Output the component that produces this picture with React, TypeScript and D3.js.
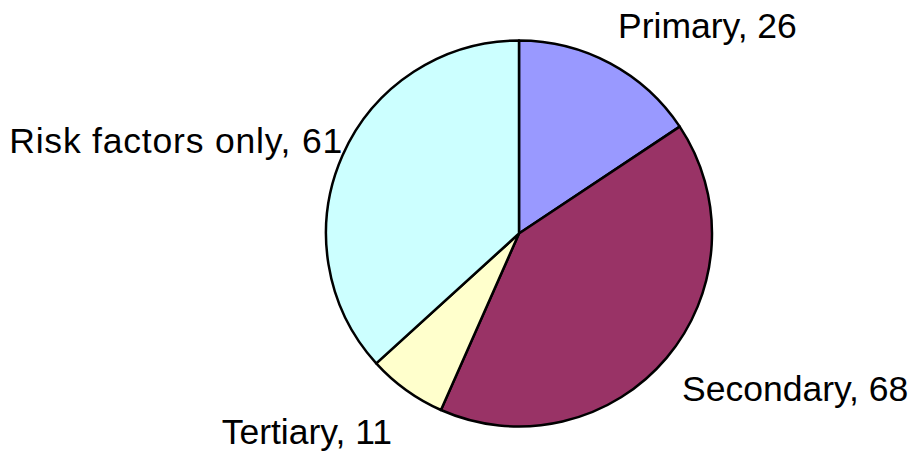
import { useEffect, useRef } from 'react';
import * as d3 from 'd3';

const categories = ['Primary', 'Secondary', 'Tertiary', 'Risk factors only'];
const counts = [26, 68, 11, 61];
const sliceColors = ['#9999FF', '#993366', '#FFFFCC', '#CCFFFF'];

// label placement relative to pie centre: [dx, dy, anchor, letterSpacing]
const labelOffsets: [number, number, string, number][] = [
  [99, -196, 'start', 0],
  [163, 167, 'start', 0],
  [-127, 210, 'end', 0],
  [-176, -81, 'end', 0.8],
];

export default function App() {
  const ref = useRef<SVGSVGElement | null>(null);

  useEffect(() => {
    if (!ref.current) return;
    const svg = d3.select(ref.current);
    svg.selectAll('*').remove();

    const width = 915;
    const height = 452;
    const cx = 519;
    const cy = 233.5;
    const radius = 193;

    svg.attr('width', width).attr('height', height);

    const data = categories.map((name, i) => ({ name, value: counts[i], color: sliceColors[i] }));

    const pie = d3.pie<{ name: string; value: number; color: string }>()
      .value(d => d.value)
      .sort(null);

    const arc = d3.arc<d3.PieArcDatum<{ name: string; value: number; color: string }>>()
      .innerRadius(0)
      .outerRadius(radius);

    const g = svg.append('g').attr('transform', `translate(${cx},${cy})`);

    g.selectAll('path')
      .data(pie(data))
      .enter()
      .append('path')
      .attr('d', arc)
      .attr('fill', d => d.data.color)
      .attr('stroke', '#000')
      .attr('stroke-width', 2.5)
      .attr('stroke-linejoin', 'round');

    g.selectAll('text')
      .data(data)
      .enter()
      .append('text')
      .attr('x', (_, i) => labelOffsets[i][0])
      .attr('y', (_, i) => labelOffsets[i][1])
      .attr('text-anchor', (_, i) => labelOffsets[i][2])
      .attr('letter-spacing', (_, i) => labelOffsets[i][3])
      .attr('font-family', 'Liberation Sans, Arial, sans-serif')
      .attr('font-size', 35.5)
      .attr('fill', '#000')
      .text(d => `${d.name}, ${d.value}`);
  }, []);

  return (
    <div style={{ position: 'absolute', left: 0, top: 0 }}>
      <svg ref={ref}></svg>
    </div>
  );
}
